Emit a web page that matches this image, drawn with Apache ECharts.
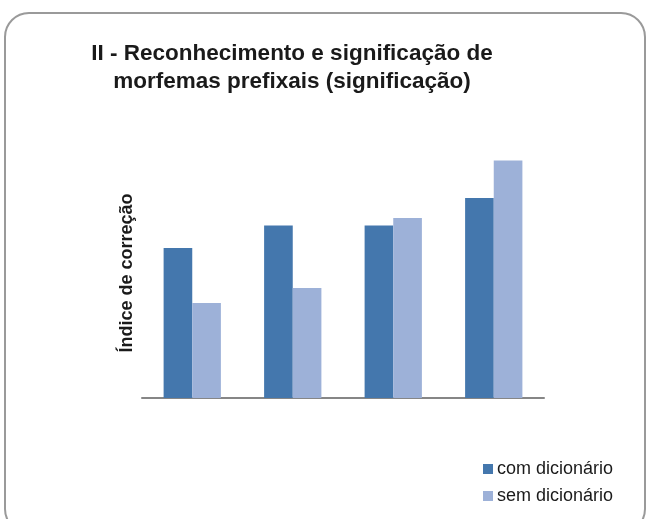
<!DOCTYPE html>
<html>
<head>
<meta charset="utf-8">
<script src="https://cdn.jsdelivr.net/npm/echarts@6/dist/echarts.min.js"></script>
<style>
html,body{margin:0;padding:0;background:#fff;}
#chart{width:651px;height:519px;}
</style>
</head>
<body>
<div id="chart"></div>
<script>
var categories = ['1', '2', '3', '4'];
var comDicionario = [0.60, 0.69, 0.69, 0.80];
var semDicionario = [0.38, 0.44, 0.72, 0.95];
var titleLine1 = 'II - Reconhecimento e significação de';
var titleLine2 = 'morfemas prefixais (significação)';
var yName = 'Índice de correção';
var seriesNames = ['com dicionário', 'sem dicionário'];

var chart = echarts.init(document.getElementById('chart'), null, {renderer: 'canvas'});
var font = '"Liberation Sans", Arial, sans-serif';
chart.setOption({
  backgroundColor: '#fff',
  animation: false,
  graphic: [{
    type: 'rect',
    shape: {x: 5, y: 13, width: 640, height: 520, r: 24},
    style: {fill: 'none', stroke: '#9a9a9a', lineWidth: 2},
    silent: true
  }],
  title: [{
    text: titleLine1,
    left: 292, top: 42, textAlign: 'center', padding: 0,
    textStyle: {fontFamily: font, fontWeight: 'bold', fontSize: 22.5, color: '#1a1a1a'}
  }, {
    text: titleLine2,
    left: 292, top: 70, textAlign: 'center', padding: 0,
    textStyle: {fontFamily: font, fontWeight: 'bold', fontSize: 22.5, color: '#1a1a1a'}
  }],
  legend: {
    orient: 'vertical',
    left: 483, top: 460, padding: 0,
    itemWidth: 10, itemHeight: 10, itemGap: 9,
    icon: 'rect',
    textStyle: {fontFamily: font, fontSize: 18, color: '#1a1a1a', padding: [0, 0, 0, -1]},
    data: seriesNames
  },
  grid: {left: 142, right: 107, top: 148, bottom: 121, containLabel: false},
  xAxis: {
    type: 'category',
    data: categories,
    axisLine: {lineStyle: {color: '#868686', width: 2}},
    axisTick: {show: false},
    axisLabel: {show: false}
  },
  yAxis: {
    type: 'value',
    min: 0, max: 1,
    name: yName,
    nameLocation: 'middle',
    nameRotate: 90,
    nameGap: 6,
    nameTextStyle: {fontFamily: font, fontWeight: 'bold', fontSize: 18, color: '#1a1a1a'},
    axisLine: {show: false},
    axisTick: {show: false},
    axisLabel: {show: false},
    splitLine: {show: false}
  },
  series: [{
    name: seriesNames[0],
    type: 'bar',
    data: comDicionario,
    barGap: '0%',
    barCategoryGap: '43%',
    itemStyle: {color: '#4477ad'}
  }, {
    name: seriesNames[1],
    type: 'bar',
    data: semDicionario,
    itemStyle: {color: '#9db1d8'}
  }]
});
</script>
</body>
</html>
